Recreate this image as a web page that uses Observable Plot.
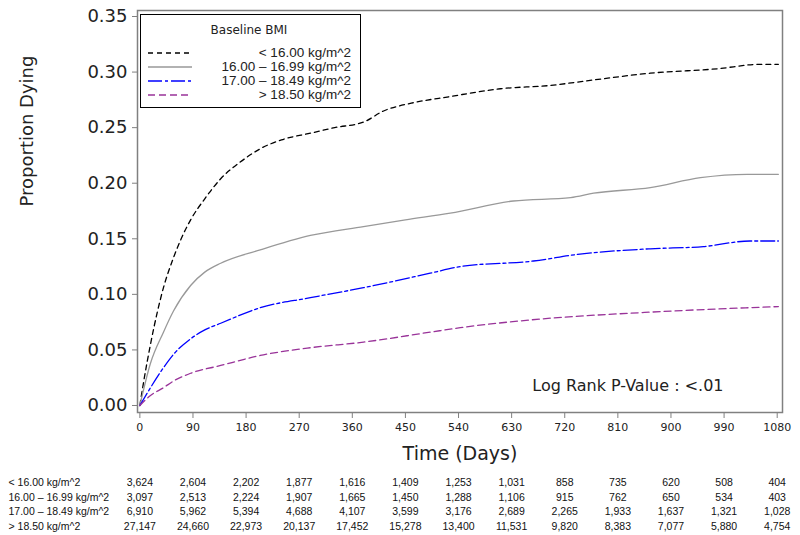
<!DOCTYPE html>
<html><head><meta charset="utf-8">
<script src="https://cdn.jsdelivr.net/npm/d3@7"></script>
<script src="https://cdn.jsdelivr.net/npm/@observablehq/plot@0.6"></script>
<style>body{margin:0;background:#fff;} #chart{width:800px;height:535px;}</style>
</head><body><div id="chart"></div>
<script>
// Groups (Baseline BMI)
const groups = ["< 16.00 kg/m^2", "16.00 – 16.99 kg/m^2", "17.00 – 18.49 kg/m^2", "> 18.50 kg/m^2"];
const colors = ["#000000", "#999999", "#0000ff", "#993399"];
const dashes = ["5,4", "none", "14,3,3,3", "7,4"];

// Cumulative proportion dying
const daysLt16 = [0, 6, 18, 30, 40, 57, 70, 86, 110, 137, 170, 204, 240, 289, 330, 379, 413, 460, 526, 611, 696, 763, 865, 979, 1051, 1082];
const propLt16 = [0, 0.02, 0.055, 0.085, 0.106, 0.133, 0.150, 0.167, 0.186, 0.204, 0.219, 0.231, 0.239, 0.245, 0.25, 0.255, 0.265, 0.272, 0.278, 0.285, 0.288, 0.2925, 0.299, 0.303, 0.307, 0.307];
const days16 = [0, 18, 40, 57, 86, 110, 137, 204, 289, 379, 450, 526, 633, 730, 769, 865, 950, 1029, 1082];
const prop16 = [0, 0.038, 0.066, 0.085, 0.108, 0.120, 0.128, 0.140, 0.153, 0.161, 0.167, 0.173, 0.184, 0.187, 0.191, 0.196, 0.205, 0.208, 0.208];
const days17 = [0, 18, 40, 57, 86, 110, 137, 204, 289, 379, 492, 543, 667, 742, 865, 955, 1034, 1082];
const prop17 = [0, 0.016, 0.034, 0.046, 0.060, 0.068, 0.074, 0.088, 0.097, 0.106, 0.119, 0.125, 0.130, 0.136, 0.141, 0.143, 0.148, 0.148];
const daysGt18 = [0, 18, 40, 57, 86, 137, 204, 289, 379, 492, 543, 662, 865, 1082];
const propGt18 = [0, 0.009, 0.016, 0.022, 0.029, 0.036, 0.045, 0.052, 0.057, 0.066, 0.070, 0.077, 0.084, 0.089];

// Axis ticks
const tickDays = [0, 90, 180, 270, 360, 450, 540, 630, 720, 810, 900, 990, 1080];
const yTicks = [0, 0.05, 0.10, 0.15, 0.20, 0.25, 0.30, 0.35];

// Number at risk
const riskLt16 = ["3,624","2,604","2,202","1,877","1,616","1,409","1,253","1,031","858","735","620","508","404"];
const risk16   = ["3,097","2,513","2,224","1,907","1,665","1,450","1,288","1,106","915","762","650","534","403"];
const risk17   = ["6,910","5,962","5,394","4,688","4,107","3,599","3,176","2,689","2,265","1,933","1,637","1,321","1,028"];
const riskGt18 = ["27,147","24,660","22,973","20,137","17,452","15,278","13,400","11,531","9,820","8,383","7,077","5,880","4,754"];

const pValueText = "Log Rank P-Value : <.01";

const seriesDays = [daysLt16, days16, days17, daysGt18];
const seriesProp = [propLt16, prop16, prop17, propGt18];
const riskRows = [riskLt16, risk16, risk17, riskGt18];

const lineMarks = groups.map((g, i) => Plot.line(
  seriesDays[i].map((d, j) => ({day: d, p: seriesProp[i][j]})),
  {x: "day", y: "p", stroke: colors[i], strokeWidth: 1.3, strokeDasharray: dashes[i], curve: "monotone-x"}
));

const rowDy = [73, 88, 102, 117];
const tableFont = "Liberation Sans";
const tableMarks = riskRows.flatMap((row, r) => [
  Plot.text([groups[r]], {frameAnchor: "bottom-left", dx: -129, dy: rowDy[r], textAnchor: "start", fontSize: 10.5, fontFamily: tableFont, fill: "#111"}),
  Plot.text(tickDays.map((d, k) => ({day: d, n: row[k]})), {x: "day", text: "n", frameAnchor: "bottom", dy: rowDy[r], fontSize: 10.5, fontFamily: tableFont, fill: "#111"})
]);

const chart = Plot.plot({
  width: 800, height: 535,
  marginLeft: 137, marginRight: 18, marginTop: 10, marginBottom: 123,
  x: {domain: [-4, 1089]},
  y: {domain: [-0.0063, 0.3554]},
  style: {fontFamily: "DejaVu Sans", background: "white", color: "#222"},
  marks: [
    Plot.axisY({ticks: yTicks, tickFormat: d3.format(".2f"), tickSize: 5, tickPadding: 5, fontSize: 18, stroke: "#808080", color: "#222", label: null, style: {letterSpacing: "2px"}}),
    Plot.axisX({ticks: tickDays, tickFormat: d => String(d), tickSize: 6, tickPadding: 5, fontSize: 11, stroke: "#808080", color: "#222", label: null}),
    ...lineMarks,
    Plot.frame({stroke: "#808080", strokeWidth: 1.5}),
    Plot.text(["Proportion Dying"], {frameAnchor: "left", dx: -110, dy: -5, rotate: -90, fontSize: 18, fill: "#222"}),
    Plot.text(["Time (Days)"], {frameAnchor: "bottom", dy: 47, fontSize: 19, fill: "#222"}),
    Plot.text([pValueText], {frameAnchor: "bottom-right", dx: -59, dy: -22, textAnchor: "end", fontSize: 16, fill: "#222"}),
    ...tableMarks
  ]
});
document.getElementById("chart").appendChild(chart);

// Legend box drawn inside the plot area (top-left)
const svg = d3.select(chart);
const lg = svg.append("g").attr("font-family", "DejaVu Sans").attr("fill", "#222");
lg.append("rect").attr("x", 140.5).attr("y", 14.5).attr("width", 220).attr("height", 93)
  .attr("fill", "white").attr("stroke", "#000").attr("stroke-width", 1);
lg.append("text").attr("x", 249).attr("y", 30).attr("text-anchor", "middle").attr("dominant-baseline", "middle")
  .attr("font-size", 12).text("Baseline BMI");
const legendY = [53, 67, 81, 95];
groups.forEach((g, i) => {
  lg.append("line").attr("x1", 148).attr("x2", 192).attr("y1", legendY[i]).attr("y2", legendY[i])
    .attr("stroke", colors[i]).attr("stroke-width", 1.3).attr("stroke-dasharray", dashes[i]);
  lg.append("text").attr("x", 351).attr("y", legendY[i]).attr("text-anchor", "end").attr("dominant-baseline", "middle")
    .attr("font-family", "Liberation Sans").attr("font-size", 13.5).text(g);
});
</script></body></html>
